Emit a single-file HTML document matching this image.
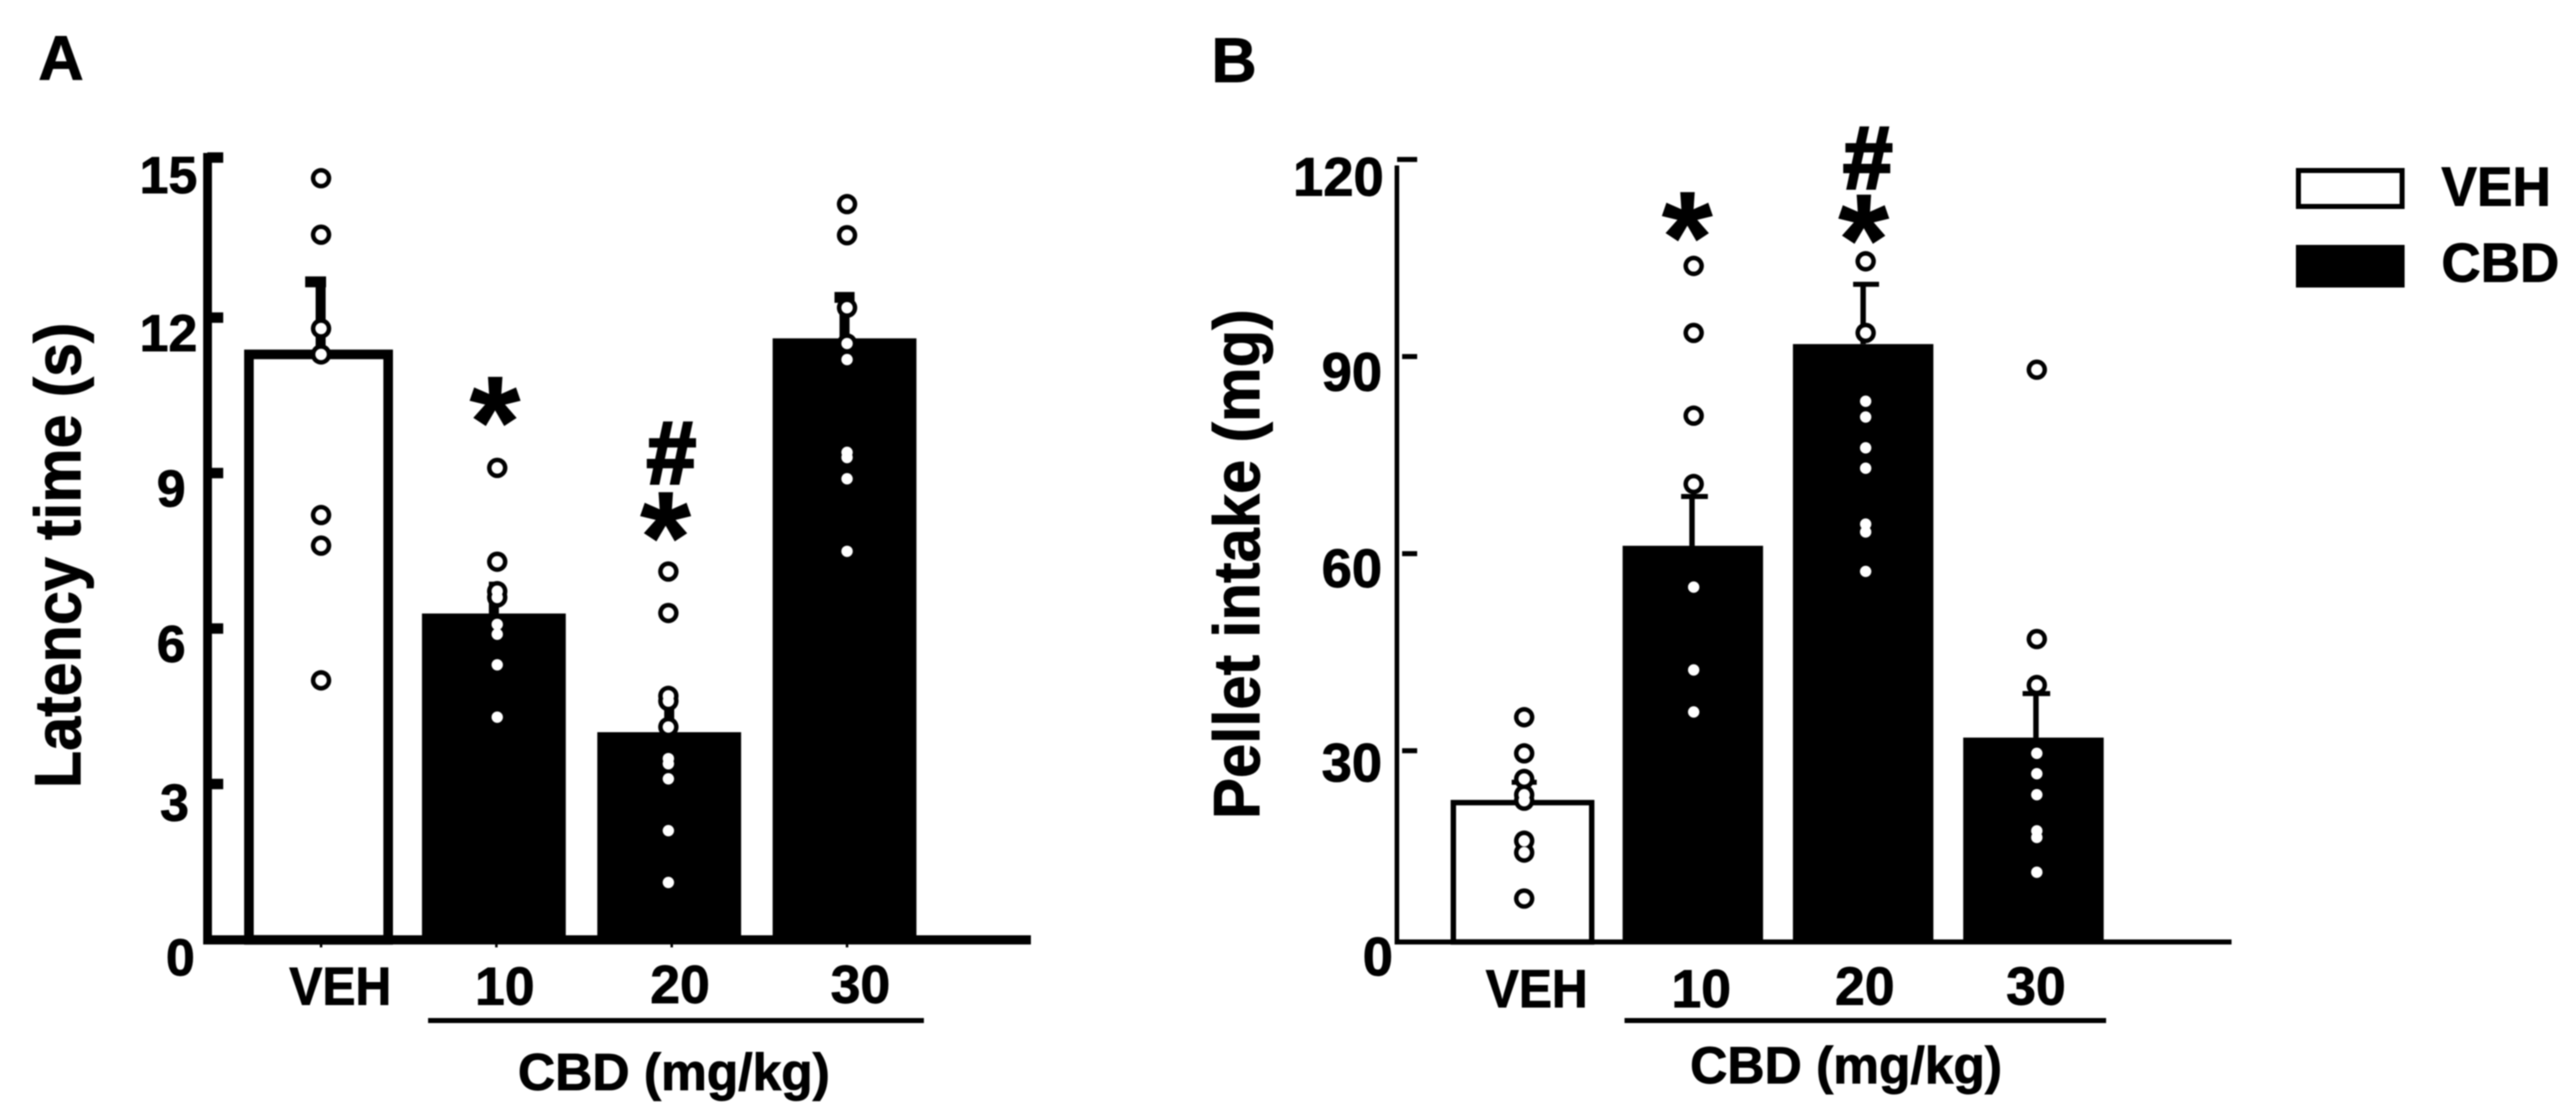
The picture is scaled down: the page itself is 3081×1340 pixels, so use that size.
<!DOCTYPE html>
<html lang="en">
<head>
<meta charset="utf-8">
<title>Latency time and pellet intake after CBD</title>
<style>
  html, body { margin: 0; padding: 0; background: #fff; }
  svg { display: block; filter: blur(0.7px); }
  text { font-family: "Liberation Sans", sans-serif; font-weight: bold; fill: #000; stroke: #000; stroke-width: 1px; }
  text.heavy { stroke-width: 3.5px; }
</style>
</head>
<body>
<svg id="figure" xmlns="http://www.w3.org/2000/svg" width="3081" height="1340" viewBox="0 0 3081 1340">
  <rect x="0" y="0" width="3081" height="1340" fill="#fff"/>

  <g id="panel-a"></g>
  <g id="panel-b"></g>

  <text x="73" y="95" font-size="75" text-anchor="middle">A</text>
  <text x="1476" y="98" font-size="75" text-anchor="middle">B</text>

  <text transform="translate(96 943) rotate(-90)" font-size="78" textLength="557" lengthAdjust="spacingAndGlyphs">Latency time (s)</text>
  <text transform="translate(1506 980) rotate(-90)" font-size="78" textLength="610" lengthAdjust="spacingAndGlyphs">Pellet intake (mg)</text>

  <rect x="512" y="1218" width="593" height="6" fill="#000"/>
  <rect x="1943" y="1218" width="576" height="6" fill="#000"/>
  <text x="806" y="1304" font-size="62" text-anchor="middle" textLength="373" lengthAdjust="spacingAndGlyphs">CBD (mg/kg)</text>
  <text x="2208" y="1296" font-size="62" text-anchor="middle" textLength="373" lengthAdjust="spacingAndGlyphs">CBD (mg/kg)</text>

  <text x="592" y="558" font-size="155" text-anchor="middle">*</text>
  <text class="heavy" x="803" y="578" font-size="106" text-anchor="middle">#</text>
  <text x="796" y="696" font-size="155" text-anchor="middle">*</text>
  <text x="2018" y="337" font-size="155" text-anchor="middle">*</text>
  <text class="heavy" x="2234" y="225" font-size="106" text-anchor="middle">#</text>
  <text x="2229" y="340" font-size="155" text-anchor="middle">*</text>

  <g>
    <rect x="2749" y="204" width="124" height="43" fill="#fff" stroke="#000" stroke-width="6"/>
    <text x="2920" y="246" font-size="66" textLength="131" lengthAdjust="spacingAndGlyphs">VEH</text>
    <rect x="2746" y="293" width="130" height="51" fill="#000"/>
    <text x="2920" y="337" font-size="66" textLength="141" lengthAdjust="spacingAndGlyphs">CBD</text>
  </g>
</svg>

<script>
// ---- Data ----
const categories = ['VEH', '10', '20', '30'];

const latencyTicks = [0, 3, 6, 9, 12, 15];
const latencyMeans = [11.29, 6.29, 4.0, 11.6];
const latencyErrorTops = [12.69, 6.8, 4.7, 12.39];
const latencyPointsVeh = [14.69, 13.6, 11.79, 11.29, 8.19, 7.6, 5.0];
const latencyPoints10 = [9.1, 7.29, 6.72, 6.6, 6.08, 5.89, 5.3, 4.29];
const latencyPoints20 = [7.1, 6.3, 4.7, 4.6, 4.1, 3.49, 3.39, 3.1, 2.1, 1.1];
const latencyPoints30 = [14.19, 13.59, 12.19, 11.5, 11.19, 9.4, 9.3, 8.89, 7.49];

const intakeTicks = [0, 30, 60, 90, 120];
const intakeMeans = [22.1, 61.2, 91.9, 32];
const intakeErrorTops = [25.2, 68.7, 101, 38.7];
const intakePointsVeh = [35.1, 29.6, 25.7, 23.3, 22.4, 16.3, 14.5, 7.5];
const intakePoints10 = [103.8, 93.6, 81, 70.6, 54.9, 42.3, 35.9];
const intakePoints20 = [104.5, 93.6, 83.2, 80.8, 76.1, 73, 64.5, 63.3, 57.3];
const intakePoints30 = [88, 47, 40, 29.6, 26.5, 23.3, 17.8, 16.8, 11.5];

// ---- Drawing ----
const SVG_NS = 'http://www.w3.org/2000/svg';

function el(parent, tag, attrs) {
  const node = document.createElementNS(SVG_NS, tag);
  for (const key in attrs) node.setAttribute(key, attrs[key]);
  parent.appendChild(node);
  return node;
}

function drawPanel(root, prefix, cfg) {
  const y = v => cfg.zeroY - cfg.unit * v;
  const x = i => cfg.bandX0 + cfg.bandStep * i;
  const yBase = cfg.baselineY;

  // bars
  cfg.means.forEach((v, i) => {
    const top = y(v);
    const cx = x(i);
    let bar;
    if (i === 0) {
      const s = cfg.openStroke;
      bar = el(root, 'rect', {
        x: cx - cfg.openWidth / 2 + s / 2, y: top,
        width: cfg.openWidth - s, height: yBase - top,
        fill: '#fff', stroke: '#000', 'stroke-width': s
      });
    } else {
      bar = el(root, 'rect', {
        x: cx - cfg.barWidth / 2, y: top,
        width: cfg.barWidth, height: yBase - top, fill: '#000'
      });
    }
    
    
  });

  // error bars
  cfg.errorTops.forEach((v, i) => {
    const cx = x(i) + cfg.stemNudge[i];
    const top = y(v);
    const barTop = y(cfg.means[i]);
    const stem = el(root, 'rect', {
      x: cx - cfg.stemWidth / 2, y: top,
      width: cfg.stemWidth, height: barTop - top, fill: '#000'
    });
    
    
    const cap = el(root, 'rect', {
      x: cx - cfg.capLeft[i], y: top - cfg.capHeight / 2,
      width: cfg.capLeft[i] + cfg.capRight[i], height: cfg.capHeight, fill: '#000'
    });
    
    
  });

  // axes
  const spine = el(root, 'rect', {
    x: cfg.spineX, y: cfg.spineTop,
    width: cfg.spineWidth, height: yBase + cfg.baseThickness / 2 - cfg.spineTop, fill: '#000'
  });
  
  

  const baseline = el(root, 'rect', {
    x: cfg.spineX, y: yBase - cfg.baseThickness / 2,
    width: cfg.baseEnd - cfg.spineX, height: cfg.baseThickness, fill: '#000'
  });
  
  

  cfg.ticks.forEach((t, i) => {
    const ty = y(t) + cfg.tickNudge[i];
    if (t !== 0) {
      const mark = el(root, 'rect', {
        x: cfg.tickX0[i], y: ty - cfg.tickThickness / 2,
        width: cfg.tickX1 - cfg.tickX0[i], height: cfg.tickThickness, fill: '#000'
      });
      
      
    }
    const label = el(root, 'text', {
      x: cfg.tickLabelRight[i], y: y(t) + cfg.tickLabelDy[i],
      'font-size': cfg.tickFont, 'text-anchor': 'end'
    });
    label.textContent = String(t);
    
    
  });

  // category labels and small ticks
  categories.forEach((c, i) => {
    if (cfg.catTick) {
      const small = el(root, 'rect', {
        x: x(i) + 3 - 1.5, y: yBase, width: 3, height: cfg.catTick, fill: '#000'
      });
      
      
    }
    const attrs = {
      x: x(i) + cfg.catNudgeX[i], y: cfg.catY[i],
      'font-size': 64, 'text-anchor': 'middle'
    };
    if (i === 0) {
      attrs.textLength = 122;
      attrs.lengthAdjust = 'spacingAndGlyphs';
    }
    const catLabel = el(root, 'text', attrs);
    catLabel.textContent = c;
    
    
  });

  // individual data points: dark rings first, then white centres so that close
  // values merge into one oval as they do in the figure
  cfg.points.forEach((series, i) => {
    series.forEach((v, j) => {
      const ring = el(root, 'circle', {
        cx: x(i) + cfg.pointNudge[i], cy: y(v), r: 12.2, fill: '#000'
      });
      
      
    });
  });
  cfg.points.forEach((series, i) => {
    series.forEach((v, j) => {
      const dot = el(root, 'circle', {
        cx: x(i) + cfg.pointNudge[i], cy: y(v), r: 6.8, fill: '#fff'
      });
      
      
    });
  });
}

drawPanel(document.getElementById('panel-a'), 'latency', {
  means: latencyMeans,
  errorTops: latencyErrorTops,
  points: [latencyPointsVeh, latencyPoints10, latencyPoints20, latencyPoints30],
  ticks: latencyTicks,
  zeroY: 1124, unit: 62, baselineY: 1124.5,
  bandX0: 381, bandStep: 209.7,
  barWidth: 172, openWidth: 178, openStroke: 11.5,
  stemWidth: 12, capHeight: 13,
  stemNudge: [2.5, 0, 0, 0],
  capLeft: [18.5, 6, 6, 12],
  capRight: [6.5, 6, 6, 12],
  pointNudge: [3, 4, -1, 3],
  spineX: 243, spineWidth: 10.5, spineTop: 183,
  baseThickness: 11, baseEnd: 1233,
  tickX0: [248, 248, 248, 248, 248, 248],
  tickX1: 267, tickThickness: 12.5,
  tickNudge: [0, 0, 0, 0, 0, -5.5],
  tickFont: 62,
  tickLabelRight: [233, 226, 222, 222, 236, 236],
  tickLabelDy: [43, 44, 40, 40, 40, 37],
  catTick: 9,
  catNudgeX: [26, 13, 13, 19],
  catY: [1202, 1202, 1200, 1200]
});

drawPanel(document.getElementById('panel-b'), 'intake', {
  means: intakeMeans,
  errorTops: intakeErrorTops,
  points: [intakePointsVeh, intakePoints10, intakePoints20, intakePoints30],
  ticks: intakeTicks,
  zeroY: 1134, unit: 7.86, baselineY: 1127,
  bandX0: 1821, bandStep: 203.7,
  barWidth: 168, openWidth: 172, openStroke: 6.5,
  stemWidth: 6.5, capHeight: 6,
  stemNudge: [2, -1, 0, 3],
  capLeft: [15, 13, 12, 16],
  capRight: [15, 19, 19, 17],
  pointNudge: [2, 1, 3, 4],
  spineX: 1668, spineWidth: 5.5, spineTop: 198,
  baseThickness: 6, baseEnd: 2669,
  tickX0: [1677, 1677, 1677, 1677, 1671],
  tickX1: 1695, tickThickness: 6,
  tickNudge: [0, 0, 0, 0, 0],
  tickFont: 65,
  tickLabelRight: [1666, 1653, 1653, 1653, 1655],
  tickLabelDy: [33, 37, 40, 41, 43],
  catTick: 0,
  catNudgeX: [17, 10, 2, 3],
  catY: [1205, 1205, 1202, 1202]
});
</script>
</body>
</html>
